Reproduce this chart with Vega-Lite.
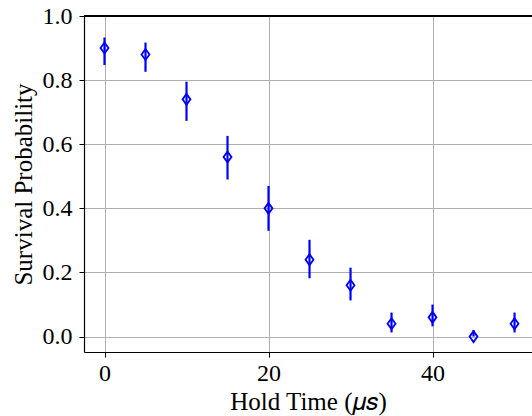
{
  "$schema": "https://vega.github.io/schema/vega-lite/v6.json",
  "width": 448,
  "height": 336,
  "autosize": {"type": "none"},
  "padding": {"left": 84, "top": 16, "right": 0, "bottom": 64},
  "background": "white",
  "config": {
    "view": {"stroke": null},
    "axis": {
      "labelFont": "Liberation Serif",
      "titleFont": "Liberation Serif",
      "labelFontSize": 24,
      "titleFontSize": 25,
      "titleFontWeight": "normal",
      "labelColor": "black",
      "titleColor": "black",
      "domainColor": "black",
      "domainWidth": 1.2,
      "tickColor": "black",
      "tickWidth": 1,
      "tickSize": 5,
      "gridColor": "#b0b0b0",
      "gridWidth": 1,
      "gridOpacity": 1
    }
  },
  "data": {
    "values": [
      {"t": 0, "p": 0.90, "lo": 0.847, "hi": 0.933},
      {"t": 5, "p": 0.88, "lo": 0.826, "hi": 0.917},
      {"t": 10, "p": 0.74, "lo": 0.673, "hi": 0.795},
      {"t": 15, "p": 0.56, "lo": 0.49, "hi": 0.626},
      {"t": 20, "p": 0.40, "lo": 0.33, "hi": 0.47},
      {"t": 25, "p": 0.24, "lo": 0.182, "hi": 0.302},
      {"t": 30, "p": 0.16, "lo": 0.113, "hi": 0.215},
      {"t": 35, "p": 0.04, "lo": 0.013, "hi": 0.075},
      {"t": 40, "p": 0.06, "lo": 0.032, "hi": 0.10},
      {"t": 45, "p": 0.00, "lo": 0.0, "hi": 0.02},
      {"t": 50, "p": 0.04, "lo": 0.013, "hi": 0.075}
    ]
  },
  "layer": [
    {
      "mark": {"type": "rule", "color": "#0000ff", "strokeWidth": 2.2},
      "encoding": {
        "x": {
          "field": "t", "type": "quantitative",
          "scale": {"domain": [-2.5, 52.13], "nice": false, "zero": false},
          "axis": {"values": [0, 20, 40], "title": "Hold Time (𝜇𝑠)", "labelPadding": 4, "titlePadding": 4, "labelFlush": false}
        },
        "y": {
          "field": "lo", "type": "quantitative",
          "scale": {"domain": [-0.048, 1.0], "nice": false, "zero": false},
          "axis": {"values": [0, 0.2, 0.4, 0.6, 0.8, 1.0], "format": ".1f", "title": "Survival Probability", "labelPadding": 7, "titlePadding": 6, "labelFlush": false}
        },
        "y2": {"field": "hi"}
      }
    },
    {
      "mark": {"type": "point", "shape": "M0,-1L0.72,0L0,1L-0.72,0Z", "filled": false, "stroke": "#0000ff", "strokeWidth": 1.8, "size": 121, "opacity": 1},
      "encoding": {
        "x": {"field": "t", "type": "quantitative"},
        "y": {"field": "p", "type": "quantitative"}
      }
    },
    {
      "mark": {"type": "rule", "color": "black", "strokeWidth": 1.2},
      "encoding": {"y": {"datum": 1.0}}
    }
  ]
}
